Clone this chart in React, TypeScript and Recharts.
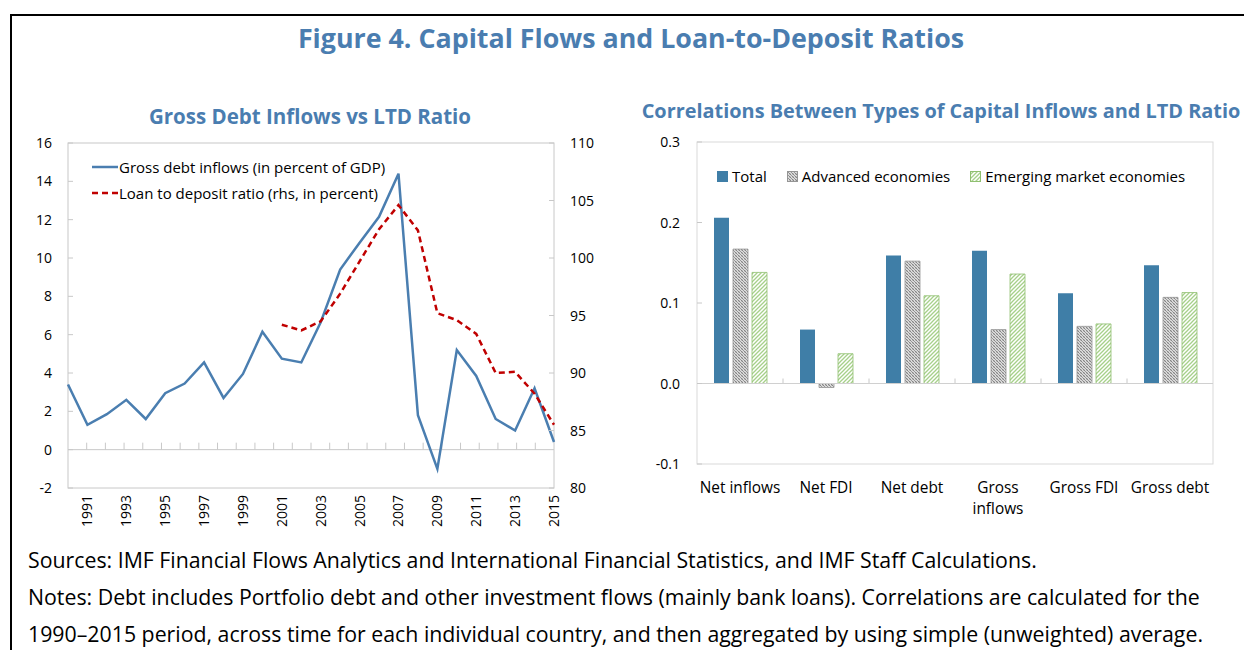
import React from "react";
import {
  LineChart,
  Line,
  BarChart,
  Bar,
  XAxis,
  YAxis,
  ReferenceLine,
  Legend,
  usePlotArea,
} from "recharts";

// left panel
const years = [
  "1990", "1991", "1992", "1993", "1994", "1995", "1996", "1997", "1998",
  "1999", "2000", "2001", "2002", "2003", "2004", "2005", "2006", "2007",
  "2008", "2009", "2010", "2011", "2012", "2013", "2014", "2015",
];
const grossDebtInflows = [
  3.4, 1.3, 1.85, 2.6, 1.6, 2.95, 3.45, 4.55, 2.7, 3.95, 6.15, 4.75, 4.55,
  6.65, 9.4, 10.8, 12.15, 14.4, 1.8, -1.0, 5.2, 3.85, 1.6, 1.0, 3.2, 0.4,
];
const ltdRatio = [
  null, null, null, null, null, null, null, null, null, null, null, 94.2,
  93.7, 94.5, 96.9, 99.7, 102.5, 104.6, 102.4, 95.2, 94.6, 93.4, 90.0, 90.1,
  88.2, 85.5,
];
const leftTicks = [-2, 0, 2, 4, 6, 8, 10, 12, 14, 16];
const rightTicks = [80, 85, 90, 95, 100, 105, 110];
const lineSeries = [
  { key: "gross", name: "Gross debt inflows (in percent of GDP)" },
  { key: "ltd", name: "Loan to deposit ratio (rhs, in percent)" },
];

// right panel
const flowTypes = ["Net inflows", "Net FDI", "Net debt", "Gross\ninflows", "Gross FDI", "Gross debt"];
const totalCorr = [0.206, 0.067, 0.159, 0.165, 0.112, 0.147];
const advancedCorr = [0.167, -0.005, 0.152, 0.067, 0.071, 0.107];
const emergingCorr = [0.138, 0.037, 0.109, 0.136, 0.074, 0.113];
const corrTicks = [-0.1, 0, 0.1, 0.2, 0.3];
const barSeries = [
  { key: "total", name: "Total" },
  { key: "advanced", name: "Advanced economies" },
  { key: "emerging", name: "Emerging market economies" },
];

const FONT = "'Open Sans', 'Noto Sans', sans-serif";
const BLUE_TITLE = "#4a7db0";
const LINE_BLUE = "#4a7eb0";
const LINE_RED = "#c00000";
const BAR_BLUE = "#3f7ea7";
const FRAME_GREY = "#c8c8c8";

const lineData = years.map((year, i) => ({
  year,
  gross: grossDebtInflows[i],
  ltd: ltdRatio[i],
}));

const barData = flowTypes.map((name, i) => ({
  name,
  total: totalCorr[i],
  advanced: advancedCorr[i],
  emerging: emergingCorr[i],
}));

const lineStyles: Record<string, { stroke: string; dash?: string }> = {
  gross: { stroke: LINE_BLUE },
  ltd: { stroke: LINE_RED, dash: "6 4" },
};

const barFills: Record<string, string> = {
  total: BAR_BLUE,
  advanced: "url(#advHatch)",
  emerging: "url(#emgHatch)",
};
const barStrokes: Record<string, string> = {
  total: BAR_BLUE,
  advanced: "#959595",
  emerging: "#8fbf70",
};

function PlotFrame({ stroke }: { stroke: string }) {
  const plot = usePlotArea();
  if (!plot) return null;
  return (
    <rect
      x={plot.x}
      y={plot.y}
      width={plot.width}
      height={plot.height}
      fill="none"
      stroke={stroke}
    />
  );
}

// little ticks on the zero line at every category boundary
function BandTicks({ count, zeroFrac, len }: { count: number; zeroFrac: number; len: number }) {
  const plot = usePlotArea();
  if (!plot) return null;
  const step = plot.width / count;
  const y0 = plot.y + plot.height * zeroFrac;
  return (
    <g>
      {Array.from({ length: count - 1 }, (_, i) => (
        <line
          key={i}
          x1={plot.x + (i + 1) * step}
          x2={plot.x + (i + 1) * step}
          y1={y0}
          y2={y0 - len}
          stroke={FRAME_GREY}
        />
      ))}
    </g>
  );
}

// tick label plus a short inward tick mark on the plot border
const InwardTick = (props: any) => {
  const { x, y, payload, gap, side, fmt } = props;
  const dir = side === "left" ? 1 : -1;
  return (
    <g>
      <text
        x={x}
        y={y}
        dy={5}
        textAnchor={side === "left" ? "end" : "start"}
        fontSize={14}
        fontFamily={FONT}
        fill="#000"
      >
        {fmt ? fmt(payload.value) : payload.value}
      </text>
      <line x1={x + dir * gap} x2={x + dir * (gap + 5)} y1={y} y2={y} stroke={FRAME_GREY} />
    </g>
  );
};

const YearTick = (props: any) => {
  const { x, y, payload } = props;
  if (Number(payload.value) % 2 === 0) return null;
  return (
    <text
      x={x}
      y={y}
      transform={`rotate(-90, ${x}, ${y})`}
      textAnchor="end"
      dy={5}
      fontSize={14}
      fontFamily={FONT}
      fill="#000"
    >
      {payload.value}
    </text>
  );
};

const FlowTick = (props: any) => {
  const { x, y, payload } = props;
  const lines = String(payload.value).split("\n");
  return (
    <text x={x} y={y} textAnchor="middle" fontSize={15.4} fontFamily={FONT} fill="#000">
      {lines.map((l, i) => (
        <tspan key={i} x={x} dy={i === 0 ? 14 : 21}>
          {l}
        </tspan>
      ))}
    </text>
  );
};

const LeftLegend = () => (
  <div style={{ fontFamily: FONT, fontSize: 15, color: "#000", whiteSpace: "nowrap" }}>
    {lineSeries.map((s) => (
      <div key={s.key} style={{ display: "flex", alignItems: "center", height: 26 }}>
        <svg width={26} height={4} style={{ marginRight: 1 }}>
          <line
            x1={0}
            x2={26}
            y1={2}
            y2={2}
            stroke={lineStyles[s.key].stroke}
            strokeWidth={2.5}
            strokeDasharray={lineStyles[s.key].dash}
          />
        </svg>
        <span>{s.name}</span>
      </div>
    ))}
  </div>
);

const RightLegend = () => (
  <div style={{ display: "flex", fontFamily: FONT, fontSize: 15, color: "#000", whiteSpace: "nowrap" }}>
    {barSeries.map((s) => (
      <div key={s.key} style={{ display: "flex", alignItems: "center", marginRight: 20 }}>
        <svg width={11} height={11} style={{ marginRight: 4 }}>
          <rect
            x={0.5}
            y={0.5}
            width={10}
            height={10}
            fill={barFills[s.key]}
            stroke={barStrokes[s.key]}
          />
        </svg>
        <span>{s.name}</span>
      </div>
    ))}
  </div>
);

function GrossDebtChart() {
  return (
    <LineChart
      width={610}
      height={410}
      data={lineData}
      margin={{ top: 13, right: 6, bottom: 2, left: 20 }}
    >
      <PlotFrame stroke={FRAME_GREY} />
      <XAxis
        dataKey="year"
        interval={0}
        axisLine={false}
        tickLine={false}
        tickSize={0}
        tickMargin={7}
        height={50}
        tick={<YearTick />}
      />
      <YAxis
        yAxisId="left"
        domain={[-2, 16]}
        ticks={leftTicks}
        interval={0}
        axisLine={false}
        tickLine={false}
        tickSize={0}
        tickMargin={16}
        width={48}
        tick={<InwardTick side="left" gap={16} />}
      />
      <YAxis
        yAxisId="right"
        orientation="right"
        domain={[80, 110]}
        ticks={rightTicks}
        interval={0}
        axisLine={false}
        tickLine={false}
        tickSize={0}
        tickMargin={16}
        width={50}
        tick={<InwardTick side="right" gap={16} />}
      />
      <ReferenceLine yAxisId="left" y={0} stroke={FRAME_GREY} />
      <BandTicks count={years.length} zeroFrac={16 / 18} len={7} />
      <Legend
        layout="vertical"
        verticalAlign="middle"
        align="center"
        wrapperStyle={{ left: 92, top: 24, width: 320 }}
        content={<LeftLegend />}
      />
      <Line
        yAxisId="left"
        dataKey="gross"
        name={lineSeries[0].name}
        stroke={lineStyles.gross.stroke}
        strokeWidth={2.5}
        dot={false}
        isAnimationActive={false}
      />
      <Line
        yAxisId="right"
        dataKey="ltd"
        name={lineSeries[1].name}
        stroke={lineStyles.ltd.stroke}
        strokeWidth={2.5}
        strokeDasharray={lineStyles.ltd.dash}
        dot={false}
        connectNulls={false}
        isAnimationActive={false}
      />
    </LineChart>
  );
}

function CorrelationChart() {
  return (
    <BarChart
      width={585}
      height={400}
      data={barData}
      barSize={15}
      barGap={4}
      margin={{ top: 12, right: 12, bottom: 6, left: 10 }}
    >
      <defs>
        <pattern id="advHatch" patternUnits="userSpaceOnUse" width={3} height={3}>
          <rect width={3} height={3} fill="#dcdcdc" />
          <path d="M0,0 L3,3 M-1,2 L1,4 M2,-1 L4,1" stroke="#7c7c7c" strokeWidth={0.9} />
          <path d="M0,3 L3,0" stroke="#a8a8a8" strokeWidth={0.5} />
        </pattern>
        <pattern id="emgHatch" patternUnits="userSpaceOnUse" width={4} height={4}>
          <rect width={4} height={4} fill="#ffffff" />
          <path d="M0,4 L4,0 M-1,1 L1,-1 M3,5 L5,3" stroke="#a6d08a" strokeWidth={1.3} />
        </pattern>
      </defs>
      <PlotFrame stroke="#d9d9d9" />
      <XAxis
        dataKey="name"
        interval={0}
        axisLine={false}
        tickLine={false}
        tickSize={0}
        tickMargin={15}
        height={60}
        tick={<FlowTick />}
      />
      <YAxis
        domain={[-0.1, 0.3]}
        ticks={corrTicks}
        interval={0}
        axisLine={false}
        tickLine={false}
        tickSize={0}
        tickMargin={17}
        width={47}
        tick={<InwardTick side="left" gap={17} fmt={(v: number) => v.toFixed(1)} />}
      />
      <ReferenceLine y={0} stroke="#d0d0d0" />
      <BandTicks count={flowTypes.length} zeroFrac={0.75} len={5} />
      <Legend
        layout="horizontal"
        verticalAlign="middle"
        align="center"
        wrapperStyle={{ left: 77, top: 36, width: 500 }}
        content={<RightLegend />}
      />
      <Bar dataKey="total" name={barSeries[0].name} fill={barFills.total} isAnimationActive={false} />
      <Bar
        dataKey="advanced"
        name={barSeries[1].name}
        fill={barFills.advanced}
        stroke={barStrokes.advanced}
        strokeWidth={0.8}
        isAnimationActive={false}
      />
      <Bar
        dataKey="emerging"
        name={barSeries[2].name}
        fill={barFills.emerging}
        stroke={barStrokes.emerging}
        strokeWidth={0.8}
        isAnimationActive={false}
      />
    </BarChart>
  );
}

export default function App() {
  return (
    <div
      style={{
        position: "absolute",
        left: 0,
        top: 0,
        width: 1244,
        height: 650,
        overflow: "hidden",
        background: "#fff",
        fontFamily: FONT,
      }}
    >
      <div
        style={{
          position: "absolute",
          left: 10,
          top: 14,
          width: 1300,
          height: 700,
          border: "2px solid #000",
        }}
      />
      <div
        style={{
          position: "absolute",
          left: 0,
          width: 1262,
          top: 19,
          textAlign: "center",
          fontSize: 26.8,
          fontWeight: 700,
          color: BLUE_TITLE,
          whiteSpace: "nowrap",
        }}
      >
        Figure 4. Capital Flows and Loan-to-Deposit Ratios
      </div>
      <div
        style={{
          position: "absolute",
          left: 110,
          width: 400,
          top: 102,
          textAlign: "center",
          fontSize: 20.5,
          fontWeight: 700,
          color: BLUE_TITLE,
          whiteSpace: "nowrap",
        }}
      >
        Gross Debt Inflows vs LTD Ratio
      </div>
      <div
        style={{
          position: "absolute",
          left: 621,
          width: 640,
          top: 97,
          textAlign: "center",
          fontSize: 19.9,
          fontWeight: 700,
          color: BLUE_TITLE,
          whiteSpace: "nowrap",
        }}
      >
        Correlations Between Types of Capital Inflows and LTD Ratio
      </div>
      <div style={{ position: "absolute", left: 0, top: 130 }}>
        <GrossDebtChart />
      </div>
      <div style={{ position: "absolute", left: 640, top: 130 }}>
        <CorrelationChart />
      </div>
      <div
        style={{
          position: "absolute",
          left: 28,
          top: 541,
          fontSize: 21.3,
          lineHeight: "37px",
          color: "#000",
          whiteSpace: "nowrap",
        }}
      >
        <div>Sources: IMF Financial Flows Analytics and International Financial Statistics, and IMF Staff Calculations.</div>
        <div>Notes: Debt includes Portfolio debt and other investment flows (mainly bank loans). Correlations are calculated for the</div>
        <div>1990–2015 period, across time for each individual country, and then aggregated by using simple (unweighted) average.</div>
      </div>
    </div>
  );
}
